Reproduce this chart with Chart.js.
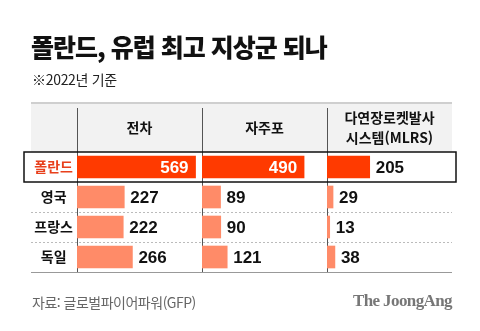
<!DOCTYPE html>
<html lang="ko">
<head>
<meta charset="utf-8">
<script src="https://cdn.jsdelivr.net/npm/chart.js@4.4.0/dist/chart.umd.min.js"></script>
<style>
  body { margin: 0; background: #fff; }
  #wrap { position: relative; width: 480px; height: 331px; overflow: hidden; font-family: "Noto Sans CJK KR", sans-serif; }
  #chart { position: absolute; left: 0; top: 0; }
  .title { position: absolute; left: 31px; top: 34px; font-size: 25px; line-height: 25px; font-weight: 900; letter-spacing: -1px; color: #111; }
  .sub { position: absolute; left: 32px; top: 72px; font-size: 14px; line-height: 14px; color: #222; letter-spacing: -0.3px; }
  .source { position: absolute; left: 32px; top: 295px; font-size: 14px; line-height: 14px; color: #666; letter-spacing: -0.5px; }
  .logo { position: absolute; right: 28px; top: 292px; font-family: "Liberation Serif", serif; font-weight: bold; font-size: 17px; line-height: 18px; color: #777; letter-spacing: -0.6px; }
</style>
</head>
<body>
<div id="wrap">
  <canvas id="chart" width="480" height="331"></canvas>
  <div class="title">폴란드, 유럽 최고 지상군 되나</div>
  <div class="sub">※2022년 기준</div>
  <div class="source">자료: 글로벌파이어파워(GFP)</div>
  <div class="logo">The JoongAng</div>
</div>
<script>
// 데이터
const categories = ['폴란드', '영국', '프랑스', '독일'];
const columns = ['전차', '자주포', ['다연장로켓발사', '시스템(MLRS)']];
const tanks = [569, 227, 222, 266];
const artillery = [490, 89, 90, 121];
const mlrs = [205, 29, 13, 38];

const RED = '#ff3a00';
const SALMON = '#ff8b68';
const KFONT = '"Noto Sans CJK KR", sans-serif';

function barColors() {
  return categories.map((c, i) => i === 0 ? RED : SALMON);
}

function makeDataset(values, axisId) {
  return {
    data: values,
    xAxisID: axisId,
    yAxisID: 'y',
    backgroundColor: barColors(),
    borderWidth: 0,
    grouped: false,
    barThickness: 22
  };
}

// weight가 클수록 왼쪽에 배치됨 (top 축은 역순 정렬)
function makeXAxis(title, pad, weight) {
  return {
    type: 'linear',
    position: 'top',
    stack: 'cols',
    weight: weight,
    min: 0,
    max: 600,
    grid: { display: false, drawTicks: false },
    border: { display: false },
    ticks: { display: false },
    title: {
      display: true,
      text: title,
      color: '#111',
      font: { family: KFONT, size: 14, weight: 'bold', lineHeight: 1.43 },
      padding: { top: pad, bottom: 0 }
    },
    afterFit(scale) { scale.height = 50; }
  };
}

// 표 모양 (헤더 배경, 구분선)
const tableLines = {
  id: 'tableLines',
  beforeDraw(chart) {
    const { ctx, chartArea, scales } = chart;
    const head = scales.x1;
    const left = scales.y.left;
    ctx.save();
    ctx.fillStyle = '#f2f2f2';
    ctx.fillRect(left, head.top, chartArea.right - left, head.bottom - head.top);
    ctx.strokeStyle = '#cfcfcf';
    ctx.lineWidth = 2;
    ctx.beginPath();
    ctx.moveTo(left, head.top + 1);
    ctx.lineTo(chartArea.right, head.top + 1);
    ctx.stroke();
    ctx.restore();
  },
  beforeDatasetsDraw(chart) {
    const { ctx, chartArea, scales } = chart;
    const head = scales.x1;
    const left = scales.y.left;
    const band = (chartArea.bottom - chartArea.top) / categories.length;
    ctx.save();
    ctx.strokeStyle = '#bbbbbb';
    ctx.lineWidth = 1;
    ctx.setLineDash([2, 2]);
    for (let i = 2; i < categories.length; i++) {
      const y = Math.round(chartArea.top + band * i) + 0.5;
      ctx.beginPath();
      ctx.moveTo(left, y);
      ctx.lineTo(chartArea.right, y);
      ctx.stroke();
    }
    ctx.setLineDash([]);
    ctx.strokeStyle = '#999';
    ctx.beginPath();
    ctx.moveTo(left, chartArea.bottom + 0.5);
    ctx.lineTo(chartArea.right, chartArea.bottom + 0.5);
    ctx.stroke();

    ctx.strokeStyle = '#555';
    [scales.x1.left, scales.x2.left, scales.x3.left].forEach(x => {
      const xx = Math.round(x) + 0.5;
      ctx.beginPath();
      ctx.moveTo(xx, head.top + 6);
      ctx.lineTo(xx, chartArea.bottom);
      ctx.stroke();
    });
    ctx.restore();
  },
  afterDatasetsDraw(chart) {
    const { ctx, chartArea, scales } = chart;
    const band = (chartArea.bottom - chartArea.top) / categories.length;
    ctx.save();
    ctx.strokeStyle = '#111';
    ctx.lineWidth = 1.5;
    ctx.strokeRect(scales.y.left - 7, chartArea.top, chartArea.right - scales.y.left + 11, band);
    ctx.restore();
  }
};

// 막대 값 표시
const valueLabels = {
  id: 'valueLabels',
  afterDatasetsDraw(chart) {
    const ctx = chart.ctx;
    ctx.save();
    ctx.font = 'bold 17px "Liberation Sans", Arial, sans-serif';
    ctx.textBaseline = 'middle';
    chart.data.datasets.forEach((ds, di) => {
      chart.getDatasetMeta(di).data.forEach((bar, i) => {
        const v = ds.data[i];
        if (i === 0 && v > 300) {
          ctx.fillStyle = '#fff';
          ctx.textAlign = 'right';
          ctx.fillText(v, bar.x - 7, bar.y + 1);
        } else {
          ctx.fillStyle = '#111';
          ctx.textAlign = 'left';
          ctx.fillText(v, bar.x + 6, bar.y + 1);
        }
      });
    });
    ctx.restore();
  }
};

const ctx = document.getElementById('chart').getContext('2d');
const chart = new Chart(ctx, {
  type: 'bar',
  data: {
    labels: categories,
    datasets: [
      makeDataset(tanks, 'x1'),
      makeDataset(artillery, 'x2'),
      makeDataset(mlrs, 'x3')
    ]
  },
  options: {
    indexAxis: 'y',
    responsive: false,
    animation: false,
    layout: { padding: { left: 31, top: 102, right: 28, bottom: 59 } },
    plugins: { legend: { display: false }, title: { display: false }, tooltip: { enabled: false } },
    scales: {
      x1: makeXAxis(columns[0], 16, 3),
      x2: makeXAxis(columns[1], 16, 2),
      x3: makeXAxis(columns[2], 6, 1),
      y: {
        type: 'category',
        position: 'left',
        grid: { display: false, drawTicks: false },
        border: { display: false },
        ticks: {
          crossAlign: 'center',
          padding: 4,
          color: (c) => c.index === 0 ? '#e8401c' : '#111',
          font: { family: KFONT, size: 14, weight: 'bold' }
        },
        afterFit(scale) { scale.width = 46; }
      }
    }
  },
  plugins: [tableLines, valueLabels]
});
</script>
</body>
</html>
